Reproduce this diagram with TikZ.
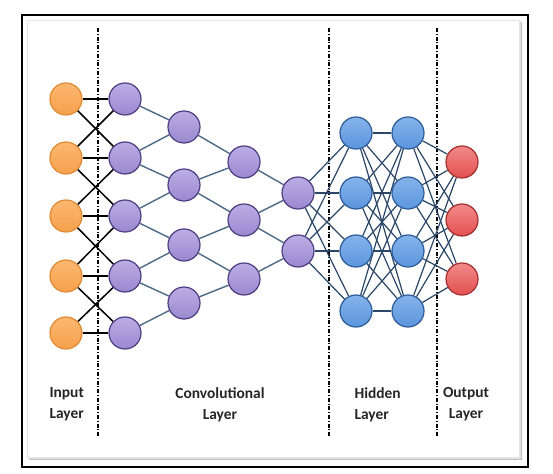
\documentclass[tikz,border=0pt]{standalone}
\usepackage{fontspec}
\setmainfont{Carlito}
\definecolor{orF}{HTML}{F6A04C}\definecolor{orT}{HTML}{FBB870}\definecolor{orD}{HTML}{E08A34}
\definecolor{puF}{HTML}{9A88CE}\definecolor{puT}{HTML}{BBADE6}\definecolor{puD}{HTML}{4E3F82}
\definecolor{blF}{HTML}{5A95DC}\definecolor{blT}{HTML}{86B4EC}\definecolor{blD}{HTML}{2D5C98}
\definecolor{reF}{HTML}{E35050}\definecolor{reT}{HTML}{F28A8A}\definecolor{reD}{HTML}{A52E2E}
\definecolor{convline}{HTML}{4D6A86}
\definecolor{hidline}{HTML}{2B4666}
\pgfdeclarelayer{back}\pgfdeclarelayer{bg}\pgfsetlayers{back,bg,main}
\tikzset{
  neuron/.style={circle, minimum size=32bp, inner sep=0pt, line width=1.2bp},
  inp/.style={neuron, draw=orD, top color=orT, bottom color=orF},
  conv/.style={neuron, draw=puD, top color=puT, bottom color=puF},
  hid/.style={neuron, draw=blD, top color=blT, bottom color=blF},
  outn/.style={neuron, draw=reD, top color=reT, bottom color=reF},
  blackedge/.style={black, line width=1.5bp},
  convedge/.style={convline, line width=1.4bp},
  hidedge/.style={hidline, line width=1.2bp},
  divider/.style={black, line width=2bp, dash pattern=on 4bp off 1.8bp on 1bp off 1.8bp},
  lbl/.style={font=\fontsize{15.5}{21}\selectfont\bfseries, text=black!85}
}
\begin{document}
\begin{tikzpicture}[x=1bp,y=-1bp]
\useasboundingbox (0,0) rectangle (553,474);
\begin{pgfonlayer}{back}
\fill[white] (0,0) rectangle (553,474);
\draw[black, line width=1.3bp] (22,15) rectangle (528,467);
\fill[black!25] (29,22) rectangle (522,460);
\fill[black!12] (28,21) rectangle (521,459);
\draw[black!10, fill=white, line width=0.6bp] (27,20) rectangle (519,457);
\end{pgfonlayer}
% dividers
\begin{pgfonlayer}{bg}
\draw[divider] (98,28) coordinate (d1t) -- (98,437) coordinate (d1b);
\draw[divider] (329,28) coordinate (d2t) -- (329,437) coordinate (d2b);
\draw[divider] (437,28) coordinate (d3t) -- (437,437) coordinate (d3b);
\end{pgfonlayer}
% nodes
\foreach \i/\y in {1/99,2/158,3/216,4/276,5/333}{
  \node[inp] (i\i) at (66,\y) {};
  \node[conv] (a\i) at (125,\y) {};
}
\foreach \i/\y in {1/127,2/185,3/245,4/303}{
  \node[conv] (b\i) at (184,\y) {};
}
\foreach \i/\y in {1/162,2/220,3/279}{
  \node[conv] (c\i) at (244,\y) {};
  \node[outn] (o\i) at (462,\y) {};
}
\foreach \i/\y in {1/193,2/251}{
  \node[conv] (e\i) at (298,\y) {};
}
\foreach \i/\y in {1/133,2/193,3/251,4/311}{
  \node[hid] (h\i) at (356,\y) {};
  \node[hid] (g\i) at (408,\y) {};
}
\begin{pgfonlayer}{bg}
\foreach \i in {1,...,5}{ \draw[blackedge] (i\i) -- (a\i); }
\foreach \i/\j in {1/2,2/3,3/4,4/5}{
  \draw[blackedge] (i\i) -- (a\j);
  \draw[blackedge] (i\j) -- (a\i);
}
\foreach \i/\j in {1/2,2/3,3/4,4/5}{
  \draw[convedge] (a\i) -- (b\i);
  \draw[convedge] (a\j) -- (b\i);
}
\foreach \i/\j in {1/2,2/3,3/4}{
  \draw[convedge] (b\i) -- (c\i);
  \draw[convedge] (b\j) -- (c\i);
}
\foreach \i/\j in {1/2,2/3}{
  \draw[convedge] (c\i) -- (e\i);
  \draw[convedge] (c\j) -- (e\i);
}
\foreach \i in {1,2}{\foreach \j in {1,...,4}{ \draw[hidedge] (e\i) -- (h\j); }}
\foreach \i in {1,...,4}{\foreach \j in {1,...,4}{ \draw[hidedge] (h\i) -- (g\j); }}
\foreach \i in {1,...,4}{\foreach \j in {1,...,3}{ \draw[hidedge] (g\i) -- (o\j); }}
\end{pgfonlayer}
% labels
\node[lbl, align=left, anchor=north west] (li) at (46,384) {Input\\Layer};
\node[lbl, align=center, anchor=north] (lc) at (220,384) {Convolutional\\Layer};
\node[lbl, align=left, anchor=north west] (lh) at (351,384) {Hidden\\Layer};
\node[lbl, align=center, anchor=north] (lo) at (466,384) {Output\\Layer};
\end{tikzpicture}
\end{document}
